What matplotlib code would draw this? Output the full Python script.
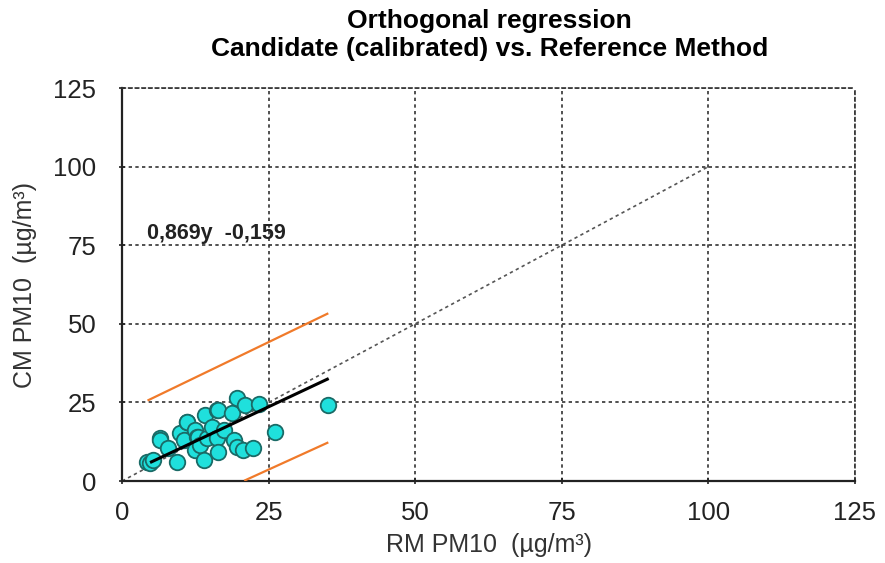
import numpy as np
import matplotlib.pyplot as plt

plt.rcParams['font.family'] = ['Liberation Sans', 'DejaVu Sans']

# Referenzmethode (x) und Kandidat (y), µg/m³
rm_pm10 = [4.2, 4.8, 5.3, 6.5, 6.5, 7.9, 9.3, 9.9, 10.5, 11.0, 11.0, 12.4, 12.4,
           12.7, 13.0, 13.3, 13.9, 14.2, 14.4, 15.3, 16.1, 16.1, 16.4, 16.4, 17.3,
           18.7, 19.0, 19.6, 19.6, 20.7, 21.0, 22.4, 23.3, 26.1, 35.2]
cm_pm10 = [6.1, 5.7, 6.7, 13.6, 13.0, 10.4, 6.1, 15.2, 13.0, 18.9, 18.9, 16.2, 9.9,
           14.1, 14.1, 11.5, 6.7, 21.0, 13.7, 17.3, 13.6, 22.6, 9.3, 22.6, 16.2,
           21.5, 13.0, 26.3, 10.9, 9.9, 24.2, 10.4, 24.5, 15.7, 24.2]

# Regressionsgerade und Grenzlinien (Steigung, Achsenabschnitt, x-Bereich)
fit_slope, fit_icpt, fit_range = 0.877, 1.7, (5.0, 35.0)
upper_slope, upper_icpt, upper_range = 0.9, 21.7, (4.5, 35.0)
lower_slope, lower_icpt, lower_range = 0.85, -17.6, (21.0, 35.0)
ticks = [0, 25, 50, 75, 100, 125]

fig = plt.figure(figsize=(8.85, 5.63), dpi=100)
ax = fig.add_axes([0.138, 0.1456, 0.828, 0.698])

ax.plot([0, 100], [0, 100], color='#555555', linestyle=(0, (2, 2)), linewidth=1.2, zorder=2)

for s, c, r in [(upper_slope, upper_icpt, upper_range), (lower_slope, lower_icpt, lower_range)]:
    xs = np.array(r)
    ax.plot(xs, s * xs + c, color='#f07a2a', linewidth=1.6, zorder=3)

ax.scatter(rm_pm10, cm_pm10, s=125, facecolor='#1fe0dc', edgecolor='#1a6a66',
           linewidth=1.3, zorder=4)

xs = np.array(fit_range)
ax.plot(xs, fit_slope * xs + fit_icpt, color='black', linewidth=2.2, zorder=5)

ax.text(4.3, 77, '0,869y  -0,159', fontsize=15.5, fontweight='bold', color='#222222', zorder=6)

ax.set_xlim(0, 125)
ax.set_ylim(0, 125)
ax.set_xticks(ticks)
ax.set_yticks(ticks)
ax.tick_params(labelsize=18.5, length=5, direction='inout', width=1.2, colors='#222222')
ax.tick_params(axis='y', pad=16)
ax.tick_params(axis='x', pad=12)
ax.grid(True, color='#333333', linestyle=(0, (2, 2)), linewidth=1.2)

for side in ['top', 'right']:
    ax.spines[side].set_linestyle((0, (2, 2)))
    ax.spines[side].set_color('#333333')
    ax.spines[side].set_linewidth(1.2)
for side in ['left', 'bottom']:
    ax.spines[side].set_linewidth(1.6)
    ax.spines[side].set_color('#222222')

ax.set_xlabel('RM PM10  (µg/m³)', fontsize=18, color='#333333', labelpad=6)
ax.set_ylabel('CM PM10  (µg/m³)', fontsize=18, color='#333333', labelpad=12)
fig.suptitle('Orthogonal regression\nCandidate (calibrated) vs. Reference Method',
             fontsize=19, fontweight='bold', y=0.984, x=0.553, linespacing=1.2)

fig.savefig('out.png', dpi=100)
